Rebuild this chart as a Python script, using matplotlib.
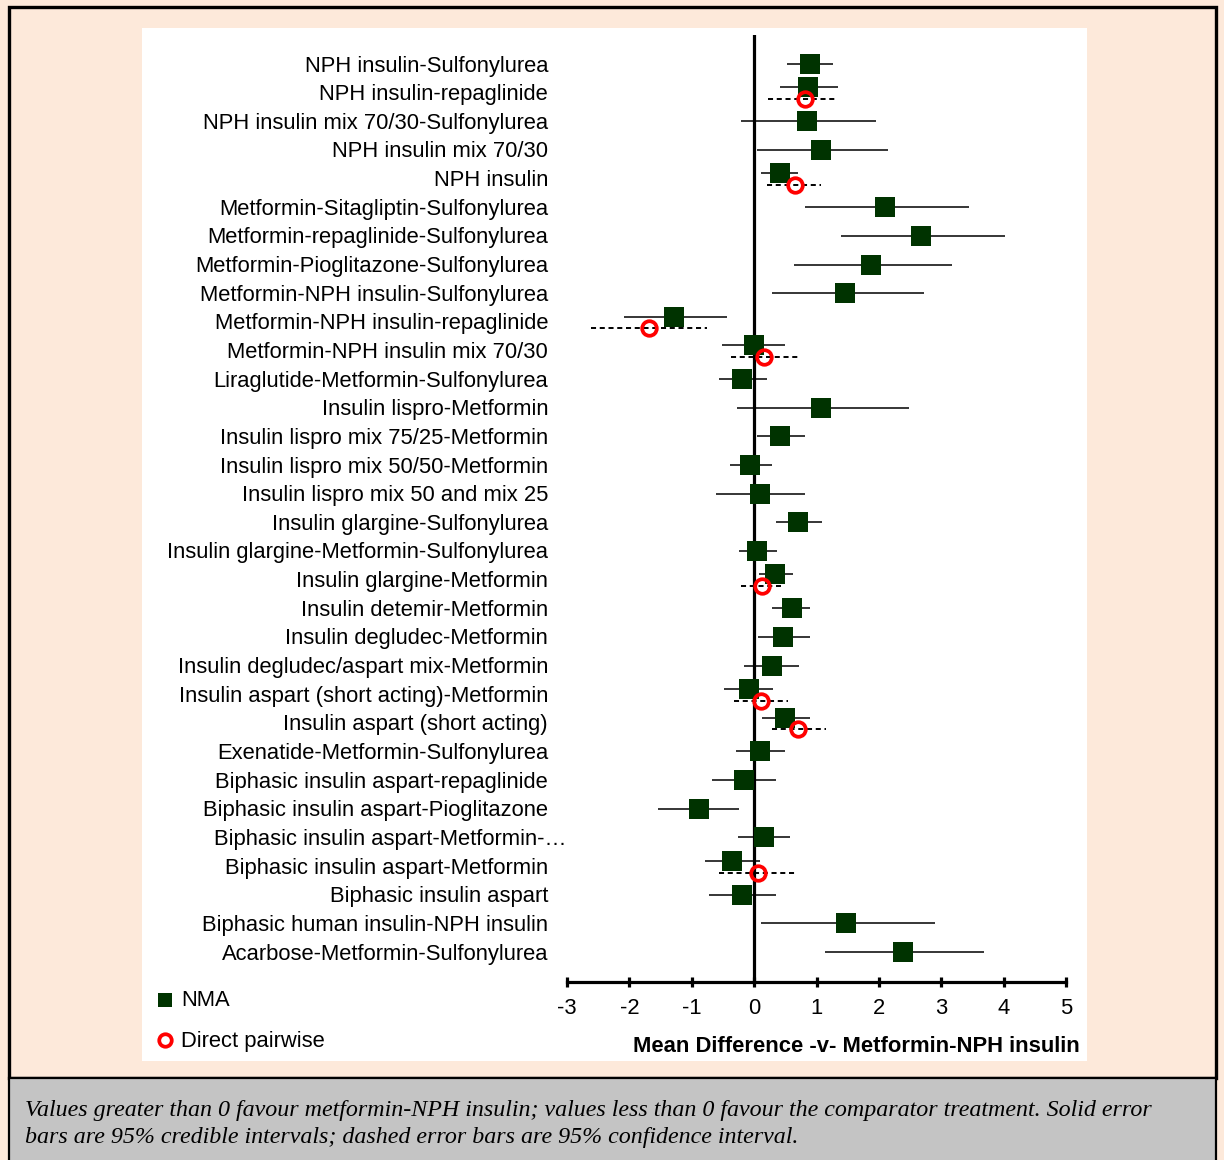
import numpy as np
import matplotlib
matplotlib.use("Agg")
import matplotlib.pyplot as plt
from matplotlib.patches import Rectangle
from matplotlib.lines import Line2D

# treatments, top to bottom
labels = [
    "NPH insulin-Sulfonylurea",
    "NPH insulin-repaglinide",
    "NPH insulin mix 70/30-Sulfonylurea",
    "NPH insulin mix 70/30",
    "NPH insulin",
    "Metformin-Sitagliptin-Sulfonylurea",
    "Metformin-repaglinide-Sulfonylurea",
    "Metformin-Pioglitazone-Sulfonylurea",
    "Metformin-NPH insulin-Sulfonylurea",
    "Metformin-NPH insulin-repaglinide",
    "Metformin-NPH insulin mix 70/30",
    "Liraglutide-Metformin-Sulfonylurea",
    "Insulin lispro-Metformin",
    "Insulin lispro mix 75/25-Metformin",
    "Insulin lispro mix 50/50-Metformin",
    "Insulin lispro mix 50 and mix 25",
    "Insulin glargine-Sulfonylurea",
    "Insulin glargine-Metformin-Sulfonylurea",
    "Insulin glargine-Metformin",
    "Insulin detemir-Metformin",
    "Insulin degludec-Metformin",
    "Insulin degludec/aspart mix-Metformin",
    "Insulin aspart (short acting)-Metformin",
    "Insulin aspart (short acting)",
    "Exenatide-Metformin-Sulfonylurea",
    "Biphasic insulin aspart-repaglinide",
    "Biphasic insulin aspart-Pioglitazone",
    "Biphasic insulin aspart-Metformin-\u2026",
    "Biphasic insulin aspart-Metformin",
    "Biphasic insulin aspart",
    "Biphasic human insulin-NPH insulin",
    "Acarbose-Metformin-Sulfonylurea",
]

# NMA mean difference and 95% credible interval
nma_mean = [0.89, 0.87, 0.85, 1.08, 0.41, 2.10, 2.67, 1.88, 1.46, -1.28, -0.01,
            -0.19, 1.08, 0.41, -0.06, 0.09, 0.71, 0.05, 0.34, 0.60, 0.47, 0.28,
            -0.09, 0.50, 0.10, -0.17, -0.89, 0.16, -0.36, -0.20, 1.48, 2.38]
nma_lo = [0.52, 0.41, -0.21, 0.05, 0.11, 0.82, 1.40, 0.64, 0.29, -2.09, -0.51,
          -0.57, -0.28, 0.04, -0.38, -0.61, 0.35, -0.25, 0.08, 0.29, 0.06, -0.16,
          -0.49, 0.12, -0.29, -0.67, -1.54, -0.26, -0.79, -0.73, 0.11, 1.13]
nma_hi = [1.26, 1.34, 1.96, 2.15, 0.71, 3.45, 4.02, 3.18, 2.73, -0.44, 0.49,
          0.21, 2.48, 0.81, 0.29, 0.81, 1.09, 0.36, 0.62, 0.90, 0.90, 0.72,
          0.30, 0.90, 0.50, 0.35, -0.24, 0.58, 0.09, 0.35, 2.90, 3.68]

# direct pairwise estimates and 95% confidence interval (row index in labels)
direct_rows = [1, 4, 9, 10, 18, 22, 23, 28]
direct_mean = [0.81, 0.65, -1.68, 0.16, 0.12, 0.11, 0.71, 0.06]
direct_lo = [0.23, 0.20, -2.61, -0.37, -0.21, -0.33, 0.28, -0.56]
direct_hi = [1.34, 1.08, -0.76, 0.70, 0.43, 0.54, 1.15, 0.66]

xticks = [-3, -2, -1, 0, 1, 2, 3, 4, 5]

W, H = 1224, 1160
PEACH = "#fde9da"
GREEN = "#003300"
FONT = "Liberation Sans"
FS = 15.8


def fx(px):
    return px / W


def fy(py):
    return 1 - py / H


fig = plt.figure(figsize=(W / 100, H / 100), dpi=100)
fig.patch.set_facecolor(PEACH)

# frames: peach box, white panel, grey caption box
fig.add_artist(Rectangle((fx(9), fy(1078)), fx(1216) - fx(9), fy(7) - fy(1078),
                         transform=fig.transFigure, facecolor="none",
                         edgecolor="black", lw=2.4, zorder=0))
fig.add_artist(Rectangle((fx(142), fy(1061)), fx(1087) - fx(142), fy(28) - fy(1061),
                         transform=fig.transFigure, facecolor="white",
                         edgecolor="none", zorder=0))
fig.add_artist(Rectangle((fx(9), fy(1165)), fx(1216) - fx(9), fy(1078) - fy(1165),
                         transform=fig.transFigure, facecolor="#c4c4c4",
                         edgecolor="black", lw=1.6, zorder=0))

ax = fig.add_axes([fx(567), fy(982), fx(1066) - fx(567), fy(35) - fy(982)])
ax.set_facecolor("none")

n = len(labels)
rows = np.arange(n)
ax.set_xlim(-3, 5)
ax.set_ylim(n - 1 + 30 / 28.65, -29 / 28.65)

shift = np.zeros(n)
shift[direct_rows] = -0.18
ys = rows + shift

ax.axvline(0, color="black", lw=2.3, zorder=1)
ax.hlines(ys, nma_lo, nma_hi, color="black", lw=1.1, zorder=2)
ax.plot(nma_mean, ys, "s", color=GREEN, ms=13.7, mew=0, zorder=3)

dy = np.array(direct_rows) + 0.23
ax.hlines(dy, direct_lo, direct_hi, color="black", lw=1.4,
          linestyles=(0, (2.6, 1.9)), zorder=2)
ax.plot(direct_mean, dy, "o", ms=10.5, mfc="none", mec="red", mew=2.7, zorder=4)

for i, lab in enumerate(labels):
    xoff = 0.036 if lab.endswith("\u2026") else 0.0
    ax.text(-0.038 + xoff, i + 0.07, lab, transform=ax.get_yaxis_transform(),
            ha="right", va="center", fontsize=FS, family=FONT)

ax.set_yticks([])
ax.set_xticks(xticks)
ax.set_xticklabels([str(t) for t in xticks], fontsize=FS, family=FONT)
for s in ["top", "right", "left"]:
    ax.spines[s].set_visible(False)
ax.spines["bottom"].set_linewidth(2.3)
ax.tick_params(axis="x", direction="inout", length=7, width=2.3, pad=8)

fig.text(fx(1080), fy(1046), "Mean Difference -v- Metformin-NPH insulin",
         ha="right", va="center", fontsize=FS, fontweight="bold", family=FONT)

# legend
fig.add_artist(Line2D([fx(165)], [fy(1000)], marker="s", color=GREEN, ms=9.5,
                      mew=0, transform=fig.transFigure))
fig.add_artist(Line2D([fx(165)], [fy(1040)], marker="o", mfc="none", mec="red",
                      ms=9, mew=2.7, transform=fig.transFigure))
fig.text(fx(181), fy(1001), "NMA", ha="left", va="center", fontsize=FS, family=FONT)
fig.text(fx(181), fy(1041), "Direct pairwise", ha="left", va="center",
         fontsize=FS, family=FONT)

caption = ("Values greater than 0 favour metformin-NPH insulin; values less than 0 "
           "favour the comparator treatment. Solid error\nbars are 95% credible "
           "intervals; dashed error bars are 95% confidence interval.")
fig.text(fx(25), fy(1124), caption, ha="left", va="center", fontsize=17.3,
         family="Liberation Serif", style="italic", linespacing=1.35)

fig.savefig("out.png", dpi=100, facecolor=PEACH)
